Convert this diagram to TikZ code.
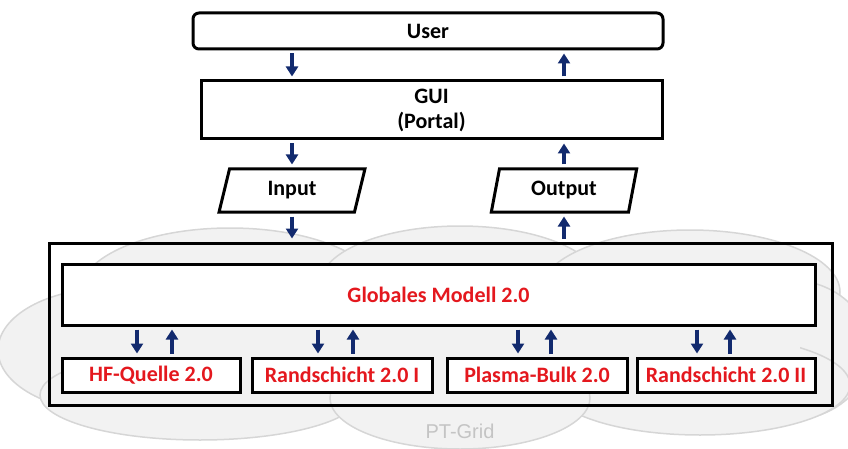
\documentclass[tikz,border=0pt]{standalone}
\usepackage{fontspec}
\setmainfont{Carlito}
\newfontfamily\arialfont{Liberation Sans}
\usetikzlibrary{arrows.meta,shapes.geometric}
\definecolor{navy}{RGB}{18,42,110}
\definecolor{redtxt}{RGB}{228,24,30}
\definecolor{cloudfill}{RGB}{242,242,242}
\definecolor{cloudline}{RGB}{214,214,214}
\definecolor{gridtxt}{RGB}{196,196,196}
\tikzset{
  box/.style={draw=black, line width=3pt, fill=white, inner sep=0pt,
    font=\fontsize{22}{25}\selectfont\bfseries, align=center},
  redbox/.style={box, text=redtxt},
  para/.style={box, trapezium, trapezium left angle=77, trapezium right angle=103,
    trapezium stretches=true},
  arr/.style={draw=navy, line width=3.5pt, -{Triangle[width=12pt,length=10pt]},
    shorten <=3pt, shorten >=3pt},
  cloudpart/.style={fill=cloudfill, draw=cloudline, line width=1.5pt},
}
\begin{document}
\begin{tikzpicture}[x=1pt,y=-1pt]
\useasboundingbox (0,0) rectangle (848,449);
% cloud (PT-Grid)
\begin{scope}
\clip (0,0) rectangle (848,449);
\draw[cloudpart] (110,350) ellipse [x radius=112, y radius=62];
\draw[cloudpart] (230,292) ellipse [x radius=150, y radius=64];
\draw[cloudpart] (460,284) ellipse [x radius=140, y radius=58];
\draw[cloudpart] (690,292) ellipse [x radius=150, y radius=62];
\draw[cloudpart] (790,350) ellipse [x radius=80, y radius=70];
\draw[cloudpart] (200,395) ellipse [x radius=160, y radius=45];
\draw[cloudpart] (700,385) ellipse [x radius=150, y radius=50];
\draw[cloudpart] (460,398) ellipse [x radius=130, y radius=51];
\fill[cloudfill] (80,300) rectangle (800,385);
\end{scope}
\node[text=gridtxt, font=\arialfont\fontsize{20}{22}\selectfont] (ptgrid) at (460,431) {PT-Grid};

% top nodes
\node[box, rounded corners=6pt, minimum width=470pt, minimum height=36pt] (user) at (428,31) {User};
\node[box, minimum width=461pt, minimum height=58pt] (gui) at (431.5,110) {GUI\\[0pt](Portal)};
\node[para, minimum width=146pt, minimum height=43pt] (inp) at (292,190.5) {Input};
\node[para, minimum width=146pt, minimum height=43pt] (outp) at (564,190.5) {Output};

% grid box
\node[draw=black, line width=3pt, minimum width=783pt, minimum height=162pt, inner sep=0pt] (grid) at (440.5,324) {};
\node[redbox, minimum width=753pt, minimum height=61pt] (glob) at (438.5,294.5) {Globales Modell 2.0};
\node[redbox, minimum width=178pt, minimum height=34pt] (hf) at (151,375) {HF-Quelle 2.0};
\node[redbox, minimum width=180pt, minimum height=34pt] (r1) at (342,375) {Randschicht 2.0 I};
\node[redbox, minimum width=180pt, minimum height=34pt] (pb) at (537,375) {Plasma-Bulk 2.0};
\node[redbox, minimum width=178pt, minimum height=34pt] (r2) at (726,375) {Randschicht 2.0 II};

% arrows top
\draw[arr] (inp.north |- user.south) -- (inp.north |- gui.north);
\draw[arr] (outp.north |- gui.north) -- (outp.north |- user.south);
\draw[arr] (inp.north |- gui.south) -- (inp.north);
\draw[arr] (outp.north) -- (outp.north |- gui.south);
\draw[arr] (inp.south) -- (inp.south |- grid.north);
\draw[arr] (outp.south |- grid.north) -- (outp.south);

% arrows bottom
\coordinate (hfd) at (137,0);
\coordinate (hfu) at (172,0);
\coordinate (r1d) at (318,0);
\coordinate (r1u) at (353,0);
\coordinate (pbd) at (518,0);
\coordinate (pbu) at (551,0);
\coordinate (r2d) at (697,0);
\coordinate (r2u) at (730,0);
\draw[arr] (hfd |- glob.south) -- (hfd |- hf.north);
\draw[arr] (hfu |- hf.north) -- (hfu |- glob.south);
\draw[arr] (r1d |- glob.south) -- (r1d |- r1.north);
\draw[arr] (r1u |- r1.north) -- (r1u |- glob.south);
\draw[arr] (pbd |- glob.south) -- (pbd |- pb.north);
\draw[arr] (pbu |- pb.north) -- (pbu |- glob.south);
\draw[arr] (r2d |- glob.south) -- (r2d |- r2.north);
\draw[arr] (r2u |- r2.north) -- (r2u |- glob.south);
\end{tikzpicture}
\end{document}
